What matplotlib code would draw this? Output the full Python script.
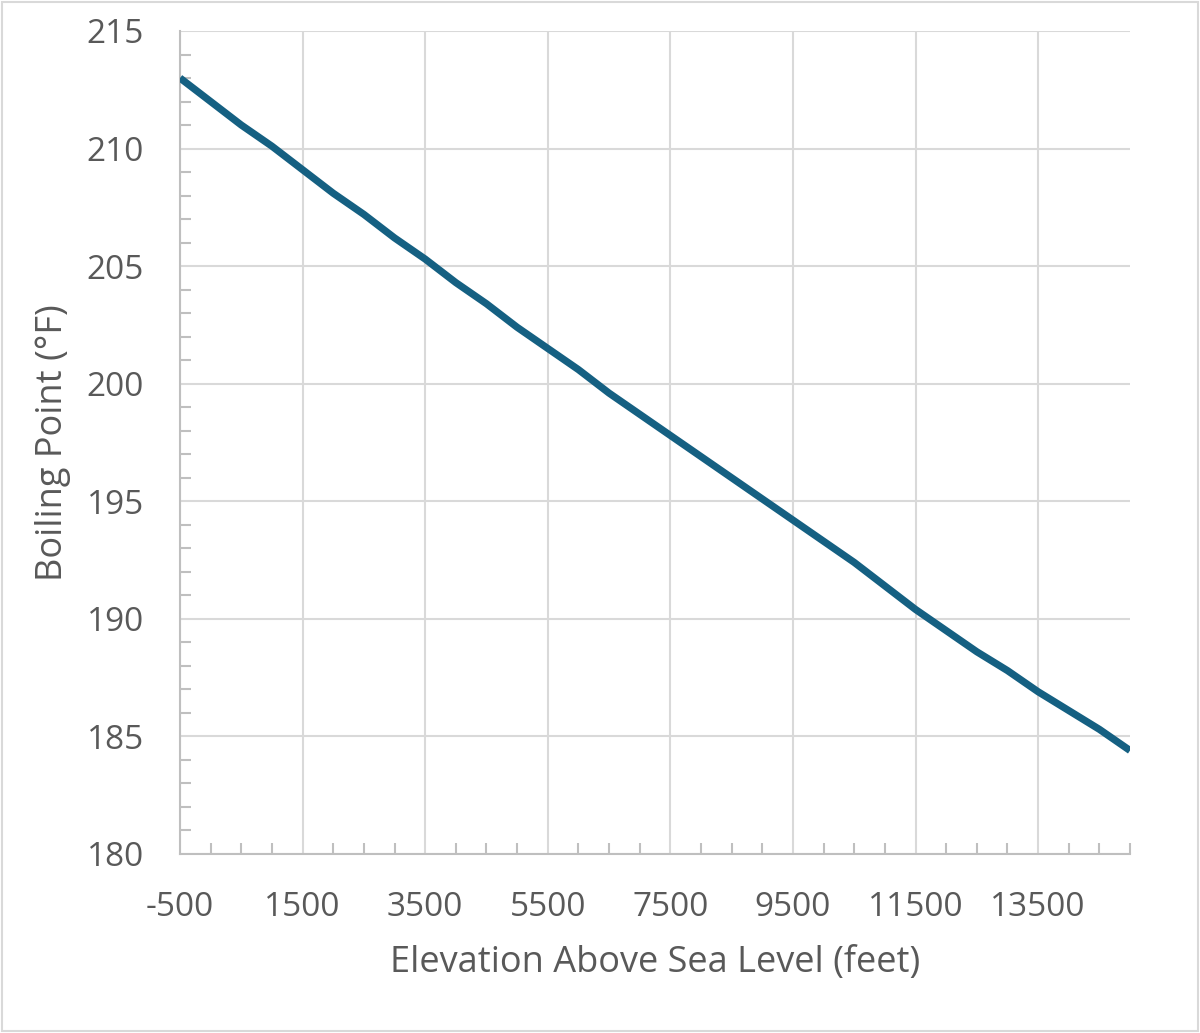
import matplotlib
matplotlib.use("Agg")
import matplotlib.pyplot as plt
from matplotlib.patches import Rectangle
from matplotlib.ticker import MultipleLocator

# elevation (feet) and boiling point of water (deg F)
elevation = [-500, 0, 500, 1000, 1500, 2000, 2500, 3000, 3500, 4000, 4500,
             5000, 5500, 6000, 6500, 7000, 7500, 8000, 8500, 9000, 9500,
             10000, 10500, 11000, 11500, 12000, 12500, 13000, 13500, 14000,
             14500, 15000]
boiling_f = [213.0, 212.0, 211.0, 210.1, 209.1, 208.1, 207.2, 206.2, 205.3,
             204.3, 203.4, 202.4, 201.5, 200.6, 199.6, 198.7, 197.8, 196.9,
             196.0, 195.1, 194.2, 193.3, 192.4, 191.4, 190.4, 189.5, 188.6,
             187.8, 186.9, 186.1, 185.3, 184.4]
x_labels = [-500, 1500, 3500, 5500, 7500, 9500, 11500, 13500]
y_labels = [180, 185, 190, 195, 200, 205, 210, 215]

plt.rcParams['font.family'] = ['Open Sans', 'DejaVu Sans']
text_col = '#595959'
grid_col = '#d9d9d9'

fig = plt.figure(figsize=(12, 10.33), dpi=100)
ax = fig.add_axes([0.15, 0.1733, 0.7917, 0.7967])

ax.plot(elevation, boiling_f, color='#156082', linewidth=5.2,
        solid_capstyle='butt', solid_joinstyle='round', zorder=3)

ax.set_xlim(-500, 15000)
ax.set_ylim(180, 215)
ax.set_xticks(x_labels)
ax.set_xticklabels([str(v) for v in x_labels])
ax.set_yticks(y_labels)
ax.xaxis.set_minor_locator(MultipleLocator(500))
ax.yaxis.set_minor_locator(MultipleLocator(1))

ax.grid(True, which='major', color=grid_col, linewidth=1.5, zorder=0)
for s in ['top', 'right']:
    ax.spines[s].set_visible(False)
for s in ['left', 'bottom']:
    ax.spines[s].set_color('#bfbfbf')
    ax.spines[s].set_linewidth(1.5)

ax.tick_params(which='major', length=0, labelsize=24, labelcolor=text_col)
ax.tick_params(axis='x', which='major', pad=27)
ax.tick_params(axis='y', which='major', pad=26)
ax.tick_params(which='minor', direction='in', length=8, width=1.5, color='#bfbfbf')

ax.set_xlabel('Elevation Above Sea Level (feet)', fontsize=26, color=text_col, labelpad=15)
ax.set_ylabel('Boiling Point (°F)', fontsize=26, color=text_col, labelpad=11)

fig.patches.append(Rectangle((0.002, 0.002), 0.996, 0.996, transform=fig.transFigure,
                             fill=False, edgecolor=grid_col, linewidth=1.5))

fig.savefig('out.png', dpi=100)
